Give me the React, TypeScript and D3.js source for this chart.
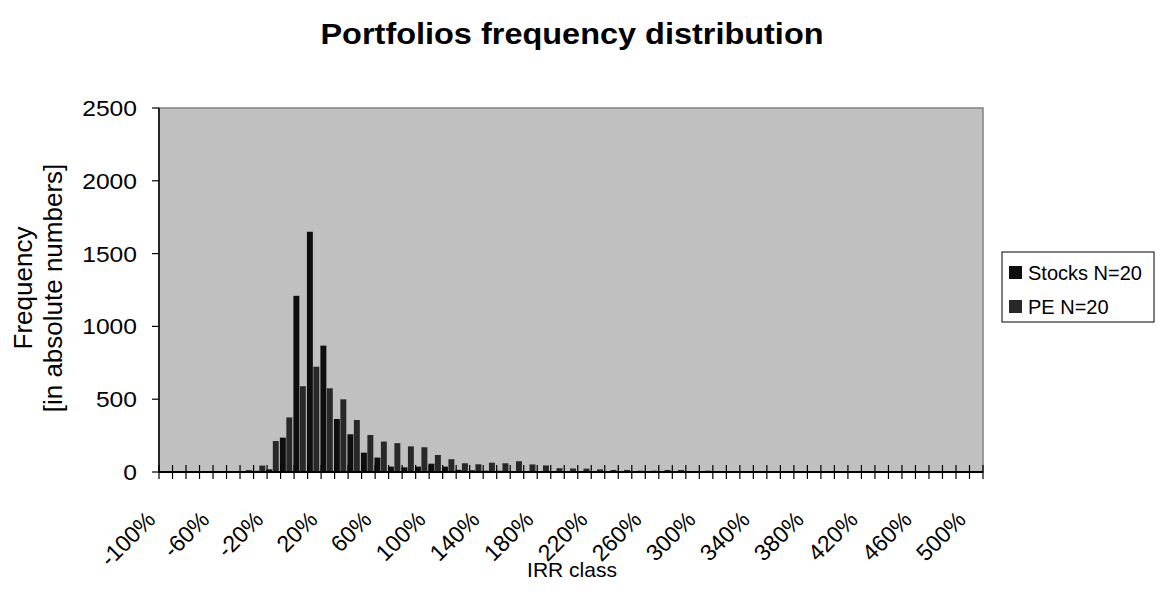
import React from "react";
import * as d3 from "d3";

const categories: string[] = [
  "-100%","-90%","-80%","-70%","-60%","-50%","-40%","-30%","-20%","-10%",
  "0%","10%","20%","30%","40%","50%","60%","70%","80%","90%",
  "100%","110%","120%","130%","140%","150%","160%","170%","180%","190%",
  "200%","210%","220%","230%","240%","250%","260%","270%","280%","290%",
  "300%","310%","320%","330%","340%","350%","360%","370%","380%","390%",
  "400%","410%","420%","430%","440%","450%","460%","470%","480%","490%","500%"
];

const stocks: number[] = [
  0,0,0,0,0,3,5,8,18,236,
  1210,1650,868,364,259,133,99,37,32,37,
  57,37,15,12,9,9,5,5,4,3,
  2,2,1,1,1,1,1,1,0,0,
  0,0,0,0,0,0,0,0,0,0,
  0,0,0,0,0,0,0,0,0,0,0
];

const pe: number[] = [
  0,0,0,0,2,7,13,44,213,375,
  589,723,575,499,357,254,209,198,176,170,
  117,88,60,53,64,60,74,52,45,26,
  24,23,18,14,14,9,9,14,14,7,
  9,7,3,7,7,7,1,1,1,1,
  1,1,1,1,1,1,1,7,0,0,0
];

const yTicks: number[] = [0, 500, 1000, 1500, 2000, 2500];
const xLabelEvery = 4;

const seriesNames = ["Stocks N=20", "PE N=20"];
const seriesColors = ["#0e0e0e", "#282828"];

export default function App() {
  const W = 1160, H = 611;
  const left = 159, right = 983, top = 108, bottom = 472;
  const x = d3.scaleBand<string>().domain(categories).range([left, right]).padding(0);
  const y = d3.scaleLinear().domain([0, 2500]).range([bottom, top]);
  const bw = x.bandwidth();
  const barW = bw * 0.44;
  const font = "'Liberation Sans', Arial, sans-serif";
  const sx = 1.12;

  return (
    <svg width={W} height={H} style={{ position: "absolute", left: 0, top: 0, background: "#fff" }} fontFamily={font}>
      <text transform={`translate(572,44) scale(${sx},1)`} textAnchor="middle" fontSize={29} fontWeight="bold">Portfolios frequency distribution</text>
      <rect x={left} y={top} width={right - left} height={bottom - top} fill="#c0c0c0" stroke="#808080" strokeWidth={1.5} />
      {categories.map((c, i) => {
        const cx = (x(c) as number) + bw / 2;
        const hs = bottom - y(stocks[i]);
        const hp = bottom - y(pe[i]);
        return (
          <g key={c}>
            {stocks[i] > 0 && <rect x={cx - barW - 1.5} y={y(stocks[i])} width={barW} height={hs} fill={seriesColors[0]} />}
            {pe[i] > 0 && <rect x={cx - 1} y={y(pe[i])} width={barW} height={hp} fill={seriesColors[1]} />}
          </g>
        );
      })}
      <line x1={left} x2={left} y1={top} y2={bottom} stroke="#000" strokeWidth={1.5} />
      <line x1={left - 1} x2={right} y1={bottom} y2={bottom} stroke="#000" strokeWidth={2} />
      {yTicks.map((t) => (
        <g key={t}>
          <line x1={left - 7} x2={left} y1={y(t)} y2={y(t)} stroke="#000" strokeWidth={1.2} />
          <text transform={`translate(137,${y(t)}) scale(${sx},1)`} dy="0.36em" textAnchor="end" fontSize={22}>{t}</text>
        </g>
      ))}
      {categories.concat(["__end"]).map((c, i) => {
        const xx = i < categories.length ? (x(c) as number) : right;
        return <line key={"t" + i} x1={xx} x2={xx} y1={bottom - 7} y2={bottom + 7} stroke="#000" strokeWidth={1.2} />;
      })}
      {categories.map((c, i) =>
        i % xLabelEvery === 0 ? (
          <text key={"l" + c} transform={`translate(${(x(c) as number) + bw / 2 - 9},${521}) rotate(-45)`} textAnchor="end" fontSize={23}>{c}</text>
        ) : null
      )}
      <text x={572} y={577} textAnchor="middle" fontSize={21}>IRR class</text>
      <text transform={`translate(32,288) rotate(-90)`} textAnchor="middle" fontSize={26}>Frequency</text>
      <text transform={`translate(62,288) rotate(-90)`} textAnchor="middle" fontSize={26}>[in absolute numbers]</text>
      <rect x={1002} y={252} width={152} height={70} fill="#fff" stroke="#000" strokeWidth={1} />
      {seriesNames.map((s, i) => (
        <g key={s}>
          <rect x={1009} y={266 + i * 34} width={13} height={13} fill={seriesColors[i]} />
          <text x={1028} y={280 + i * 34} fontSize={20}>{s}</text>
        </g>
      ))}
    </svg>
  );
}
